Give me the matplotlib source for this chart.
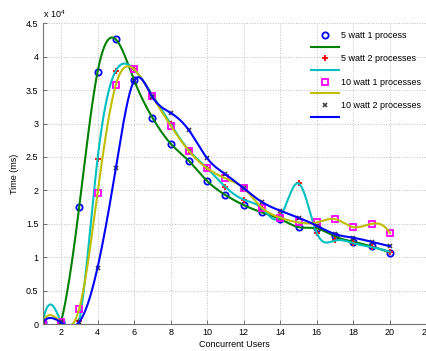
import matplotlib
matplotlib.use("Agg")
import matplotlib.pyplot as plt
import numpy as np
from matplotlib.ticker import FuncFormatter

users = np.arange(1, 21)
watt5_1proc = [250, 250, 17550, 37700, 42600, 36500, 30900, 27000, 24400, 21400,
               19300, 17800, 16700, 15700, 14500, 14300, 13100, 12300, 11600, 10700]
watt5_2proc = [250, 250, 400, 24650, 37900, 38100, 34300, 29900, 26000, 23300,
               20500, 18600, 17300, 16100, 21050, 13600, 12500, 12100, 11500, 10800]
watt10_1proc = [250, 250, 2300, 19560, 35770, 38100, 34100, 29700, 25900, 23300,
                21800, 20300, 17400, 15900, 15200, 15200, 15700, 14500, 15000, 13600]
watt10_2proc = [250, 250, 300, 8430, 23300, 36400, 34000, 31600, 29000, 24800,
                22400, 20300, 18250, 16950, 15900, 14700, 13450, 12900, 12300, 11650]
labels = ["5 watt 1 process", "5 watt 2 processes",
          "10 watt 1 processes", "10 watt 2 processes"]


def spline(x, y, xx):
    """not-a-knot cubic spline like matlab's spline()"""
    x = np.asarray(x, float)
    y = np.asarray(y, float)
    n = len(x)
    h = np.diff(x)
    A = np.zeros((n, n))
    b = np.zeros(n)
    for i in range(1, n - 1):
        A[i, i - 1] = h[i - 1]
        A[i, i] = 2 * (h[i - 1] + h[i])
        A[i, i + 1] = h[i]
        b[i] = 6 * ((y[i + 1] - y[i]) / h[i] - (y[i] - y[i - 1]) / h[i - 1])
    A[0, 0], A[0, 1], A[0, 2] = h[1], -(h[0] + h[1]), h[0]
    A[-1, -3], A[-1, -2], A[-1, -1] = h[-1], -(h[-2] + h[-1]), h[-2]
    M = np.linalg.solve(A, b)
    idx = np.clip(np.searchsorted(x, xx) - 1, 0, n - 2)
    x0, x1 = x[idx], x[idx + 1]
    hi = h[idx]
    return (M[idx] * (x1 - xx) ** 3 / (6 * hi) + M[idx + 1] * (xx - x0) ** 3 / (6 * hi)
            + (y[idx] / hi - M[idx] * hi / 6) * (x1 - xx)
            + (y[idx + 1] / hi - M[idx + 1] * hi / 6) * (xx - x0))


plt.rcParams["font.family"] = "Liberation Sans"
plt.rcParams["mathtext.default"] = "regular"

fig = plt.figure(figsize=(4.26, 3.51), dpi=100)
ax = fig.add_axes([0.1002, 0.0769, 0.9010, 0.8567])

series = [watt5_1proc, watt5_2proc, watt10_1proc, watt10_2proc]
marker_styles = [
    dict(marker="o", color="blue", ms=4.5, mfc="none", mew=1.3),
    dict(marker="+", color="red", ms=5, mew=1.3),
    dict(marker="s", color="magenta", ms=4, mfc="none", mew=1.3),
    dict(marker="x", color="0.25", ms=3.5, mew=1.2),
]
line_colors = ["green", (0, 0.75, 0.75), (0.75, 0.75, 0), "blue"]

xx = np.linspace(1, 20, 800)
handles = []
legend_labels = []
for vals, ms, lc, lab in zip(series, marker_styles, line_colors, labels):
    h1, = ax.plot(users, vals, linestyle="none", **ms)
    h2, = ax.plot(xx, spline(users, vals, xx), color=lc, lw=1.5)
    handles += [h1, h2]
    legend_labels += [lab, " "]

ax.set_xlim(1, 22)
ax.set_ylim(0, 45000)
ax.set_xticks(np.arange(2, 23, 2))
ax.set_yticks(np.arange(0, 45001, 5000))
ax.yaxis.set_major_formatter(FuncFormatter(lambda v, p: "%g" % (v / 1e4)))
ax.grid(True, linestyle=":", color="0.75", lw=0.7)
ax.tick_params(direction="in", length=3, width=0.6, color="0.35",
               labelsize=6.5, pad=3)
for s in ["top", "right"]:
    ax.spines[s].set_visible(False)
for s in ["left", "bottom"]:
    ax.spines[s].set_color("0.45")
    ax.spines[s].set_linewidth(0.8)

ax.set_xlabel("Concurrent Users", fontsize=6.5, labelpad=2)
ax.set_ylabel("Time (ms)", fontsize=6.5, labelpad=5)
fig.text(43 / 426, 1 - 18 / 351, "x 10$^{4}$", fontsize=6.5)

ax.legend(handles, legend_labels, loc="upper left",
          bbox_to_anchor=(311 / 426, 1 - 31 / 351),
          bbox_transform=fig.transFigure, frameon=False, fontsize=6.5,
          borderpad=0, borderaxespad=0, labelspacing=0.3,
          handlelength=3.1, handletextpad=0.25)

fig.savefig("out.png", dpi=100)
